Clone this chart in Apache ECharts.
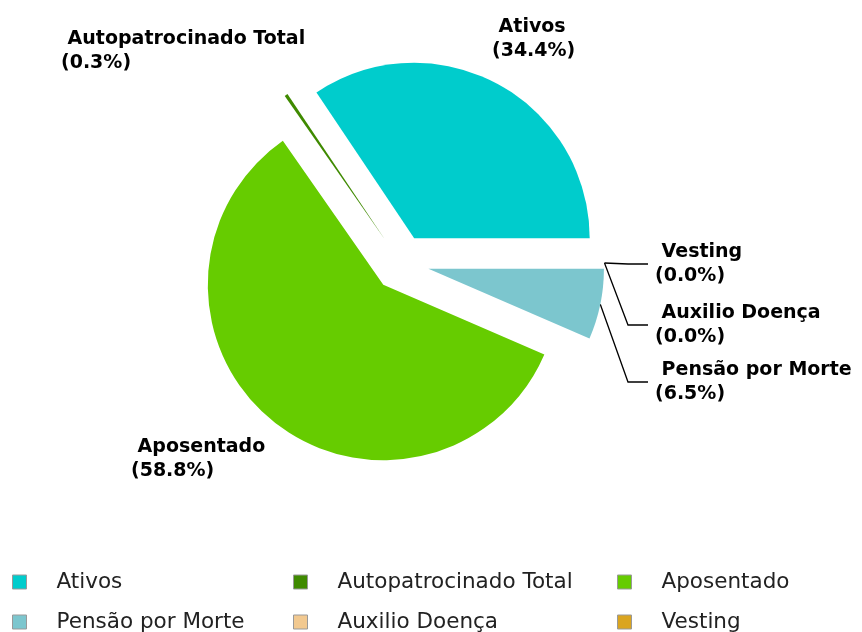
<!DOCTYPE html>
<html lang="pt">
<head>
    <meta charset="UTF-8">
    <title>Participantes</title>
    <script src="https://cdn.jsdelivr.net/npm/echarts@6/dist/echarts.min.js"></script>
    <style>
        body { margin: 0; background: #fff; }
        #chart { width: 862px; height: 632px; }
    </style>
</head>
<body>
    <div id="chart"></div>
    <script>
        // dados do grafico
        var categorias = ['Ativos', 'Autopatrocinado Total', 'Aposentado', 'Pensão por Morte', 'Auxilio Doença', 'Vesting'];
        var valores = [34.4, 0.3, 58.8, 6.5, 0.0, 0.0];
        var cores = ['#00cccc', '#3f8a00', '#66cc00', '#7cc6ce', '#f2c990', '#daa520'];

        // posicao dos rotulos (canto sup. esquerdo) e se tem linha guia
        var posRotulos = [[492, 15, false], [61, 27, false], [131, 435, false], [655, 358, true], [655, 301, true], [655, 240, true]];

        var centro = [401, 263];
        var raio = 175.5;
        var deslocamento = 28; // fatias "explodidas"
        var alturaLinha = 24;

        var chart = echarts.init(document.getElementById('chart'));

        var total = valores.reduce(function (a, b) { return a + b; }, 0);

        // uma serie por fatia, cada uma com o centro deslocado na direcao da fatia
        var series = [];
        var acumulado = 0;
        categorias.forEach(function (nome, i) {
            var meioAng = (acumulado + valores[i] / 2) / total * Math.PI * 2;
            acumulado += valores[i];
            var c = [centro[0] + deslocamento * Math.cos(meioAng), centro[1] - deslocamento * Math.sin(meioAng)];
            series.push({
                type: 'pie',
                center: c,
                radius: raio,
                startAngle: 0,
                clockwise: false,
                silent: true,
                avoidLabelOverlap: false,
                emphasis: { disabled: true },
                data: categorias.map(function (n, j) {
                    var eu = (j === i);
                    return {
                        name: n,
                        value: valores[j],
                        itemStyle: { color: eu ? cores[j] : 'rgba(0,0,0,0)' },
                        label: { show: eu },
                        labelLine: { show: eu && posRotulos[j][2] }
                    };
                }),
                label: {
                    formatter: function (p) {
                        return ' ' + p.name + '\n(' + p.percent.toFixed(1) + '%)';
                    },
                    fontFamily: 'DejaVu Sans',
                    fontWeight: 'bold',
                    fontSize: 19,
                    lineHeight: alturaLinha,
                    color: '#000',
                    textBorderColor: 'transparent'
                },
                labelLine: {
                    lineStyle: { color: '#000', width: 1.3 }
                },
                labelLayout: function (p) {
                    var pos = posRotulos[p.dataIndex];
                    var res = { x: pos[0], y: pos[1], align: 'left', verticalAlign: 'top' };
                    if (pos[2] && p.labelLinePoints) {
                        var meio = pos[1] + alturaLinha;
                        res.labelLinePoints = [p.labelLinePoints[0], [628, meio], [648, meio]];
                    }
                    return res;
                }
            });
        });

        var legendaBase = {
            orient: 'vertical',
            top: 566,
            height: 100,
            itemWidth: 14,
            itemHeight: 14,
            itemGap: 18,
            icon: 'rect',
            selectedMode: false,
            itemStyle: { borderColor: '#999', borderWidth: 1 },
            textStyle: {
                fontFamily: 'DejaVu Sans',
                fontSize: 21.5,
                lineHeight: 20,
                color: '#222',
                padding: [0, 0, 0, 25]
            }
        };

        function itensLegenda(idx) {
            return idx.map(function (i) {
                return { name: categorias[i], itemStyle: { color: cores[i] } };
            });
        }

        chart.setOption({
            animation: false,
            legend: [
                Object.assign({}, legendaBase, { left: 7, data: itensLegenda([0, 3]) }),
                Object.assign({}, legendaBase, { left: 288, data: itensLegenda([1, 4]) }),
                Object.assign({}, legendaBase, { left: 612, data: itensLegenda([2, 5]) })
            ],
            series: series
        });
    </script>
</body>
</html>
